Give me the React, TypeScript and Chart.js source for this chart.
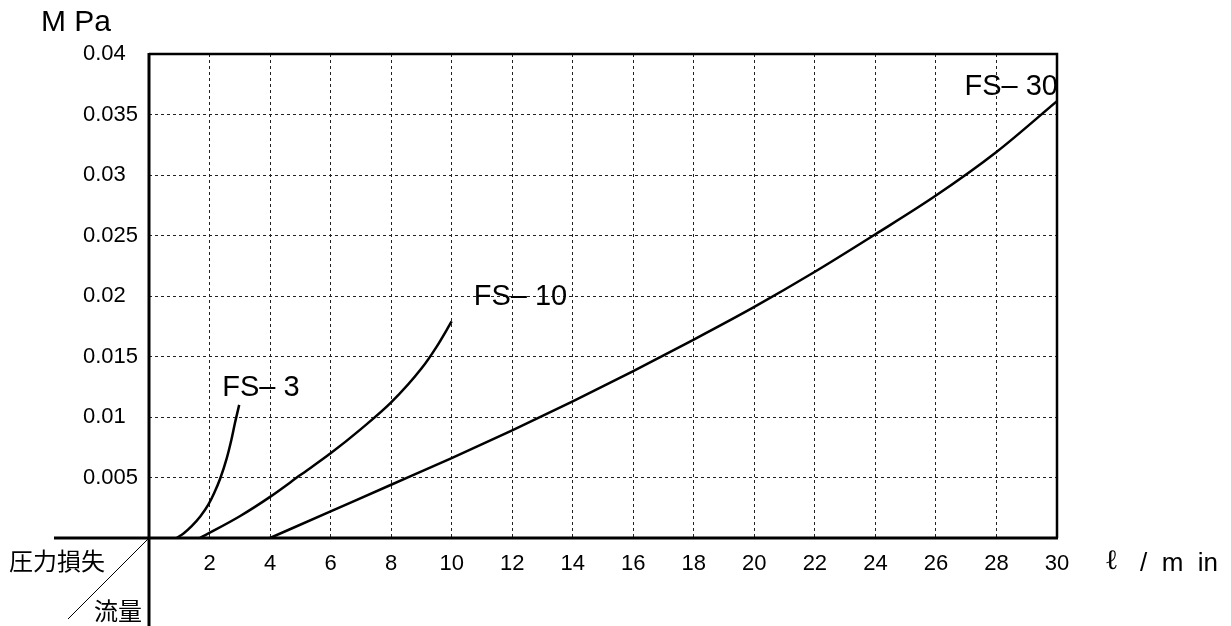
import React, { useEffect, useRef } from "react";
import { Chart, registerables } from "chart.js";

Chart.register(...registerables);

// ---- data ----
const fs3Flow = [0.91, 1.15, 1.41, 1.7, 1.96, 2.15, 2.35, 2.57, 2.73, 2.84, 2.98];
const fs3Loss = [0, 0.0004, 0.00098, 0.0018, 0.00275, 0.0037, 0.0049, 0.0066, 0.0082, 0.0095, 0.011];

const fs10Flow = [1.68, 3, 4, 5, 6, 7, 8, 9, 9.5, 10];
const fs10Loss = [0, 0.0018, 0.0034, 0.0052, 0.007, 0.009, 0.0112, 0.014, 0.0158, 0.0179];

const fs30Flow = [4, 6, 8, 10, 12, 14, 16, 18, 20, 22, 24, 26, 28, 30];
const fs30Loss = [0, 0.0022, 0.0044, 0.0066, 0.0089, 0.0113, 0.0138, 0.0164, 0.0191, 0.022, 0.0251, 0.0283, 0.0319, 0.0361];

const seriesNames = ["FS– 3", "FS– 10", "FS– 30"];
const xMin = 0, xMax = 30, xStep = 2;
const yMin = 0, yMax = 0.04, yStep = 0.005;
const yUnit = "M Pa";
const xUnitL = "ℓ";
const xUnitRest = "/  m  in";
const cornerTop = "圧力損失";
const cornerBottom = "流量";

const LATIN = "'Liberation Sans', Arial, sans-serif";
const CJK = "'Noto Sans CJK JP', sans-serif";

function pts(xs: number[], ys: number[]) {
  return xs.map((x, i) => ({ x, y: ys[i] }));
}

// label placement relative to each series' last point (px offsets), align
const labelStyle = [
  { dx: -17, dy: -17, align: "left" as CanvasTextAlign },
  { dx: 22, dy: -24, align: "left" as CanvasTextAlign },
  { dx: 1, dy: -14, align: "right" as CanvasTextAlign },
];

const framePlugin = {
  id: "frame",
  afterDraw(chart: any) {
    const { ctx, chartArea } = chart;
    const { left, right, top, bottom } = chartArea;
    ctx.save();
    ctx.strokeStyle = "#000";
    ctx.lineCap = "butt";
    // top & right border
    ctx.lineWidth = 2.5;
    ctx.beginPath();
    ctx.moveTo(left, top);
    ctx.lineTo(right, top);
    ctx.lineTo(right, bottom);
    ctx.stroke();
    // main axes with extensions
    ctx.lineWidth = 3;
    ctx.beginPath();
    ctx.moveTo(54, bottom);
    ctx.lineTo(right + 1, bottom);
    ctx.moveTo(left, top - 1);
    ctx.lineTo(left, chart.height);
    ctx.stroke();
    // diagonal
    ctx.lineWidth = 1;
    ctx.beginPath();
    ctx.moveTo(left, bottom);
    ctx.lineTo(left - 81, bottom + 81);
    ctx.stroke();

    // texts
    ctx.fillStyle = "#000";
    ctx.textBaseline = "middle";
    ctx.textAlign = "left";
    ctx.font = `30px ${LATIN}`;
    ctx.fillText(yUnit, 41, 23);
    ctx.font = `24px ${CJK}`;
    ctx.fillText(cornerTop, 9, bottom + 23);
    ctx.fillText(cornerBottom, 94, bottom + 73);
    ctx.font = `28px 'DejaVu Serif', serif`;
    ctx.fillText(xUnitL, right + 48, bottom + 24);
    ctx.font = `26px ${LATIN}`;
    ctx.fillText(xUnitRest, right + 83, bottom + 26);

    // series labels
    ctx.font = `29px ${LATIN}`;
    chart.data.datasets.forEach((ds: any, i: number) => {
      const last = ds.data[ds.data.length - 1];
      const px = chart.scales.x.getPixelForValue(last.x);
      const py = chart.scales.y.getPixelForValue(last.y);
      const st = labelStyle[i];
      ctx.textAlign = st.align;
      ctx.fillText(seriesNames[i], px + st.dx, py + st.dy);
    });
    ctx.restore();
  },
};

export default function App() {
  const ref = useRef<HTMLCanvasElement>(null);
  useEffect(() => {
    if (!ref.current) return;
    const lineDs = (name: string, data: any[]) => ({
      label: name,
      data,
      borderColor: "#000",
      borderWidth: 2.5,
      pointRadius: 0,
      fill: false,
      cubicInterpolationMode: "monotone" as const,
    });
    const chart = new Chart(ref.current, {
      type: "line",
      data: {
        datasets: [
          lineDs(seriesNames[0], pts(fs3Flow, fs3Loss)),
          lineDs(seriesNames[1], pts(fs10Flow, fs10Loss)),
          lineDs(seriesNames[2], pts(fs30Flow, fs30Loss)),
        ],
      },
      options: {
        responsive: false,
        animation: false,
        events: [],
        layout: { padding: { left: 83, top: 54, right: 174, bottom: 0 } },
        plugins: { legend: { display: false }, tooltip: { enabled: false } },
        scales: {
          x: {
            type: "linear",
            min: xMin,
            max: xMax,
            afterFit: (s: any) => { s.height = 88; },
            ticks: {
              stepSize: xStep,
              color: "#000",
              padding: 13,
              maxRotation: 0,
              font: { family: LATIN, size: 22 },
              callback: (v: any) => (v === 0 ? "" : String(v)),
            },
            grid: {
              drawTicks: false,
              lineWidth: 1,
              color: (c: any) => (c.tick && (c.tick.value === xMin || c.tick.value === xMax) ? "rgba(0,0,0,0)" : "#222"),
            },
            border: { display: false, dash: [3, 3] },
          },
          y: {
            type: "linear",
            min: yMin,
            max: yMax,
            afterFit: (s: any) => { s.width = 66; },
            ticks: {
              stepSize: yStep,
              color: "#000",
              padding: 12,
              crossAlign: "far",
              font: { family: LATIN, size: 22 },
              callback: (v: any) => (Math.abs(v) < 1e-9 ? "" : String(Number(Number(v).toFixed(3)))),
            },
            grid: {
              drawTicks: false,
              lineWidth: 1,
              color: (c: any) => (c.tick && (Math.abs(c.tick.value - yMin) < 1e-9 || Math.abs(c.tick.value - yMax) < 1e-9) ? "rgba(0,0,0,0)" : "#222"),
            },
            border: { display: false, dash: [3, 3] },
          },
        },
      },
      plugins: [framePlugin],
    });
    return () => chart.destroy();
  }, []);
  return (
    <div style={{ position: "fixed", left: 0, top: 0, width: 1231, height: 626, background: "#fff" }}>
      <canvas ref={ref} width={1231} height={626} style={{ display: "block" }} />
    </div>
  );
}
